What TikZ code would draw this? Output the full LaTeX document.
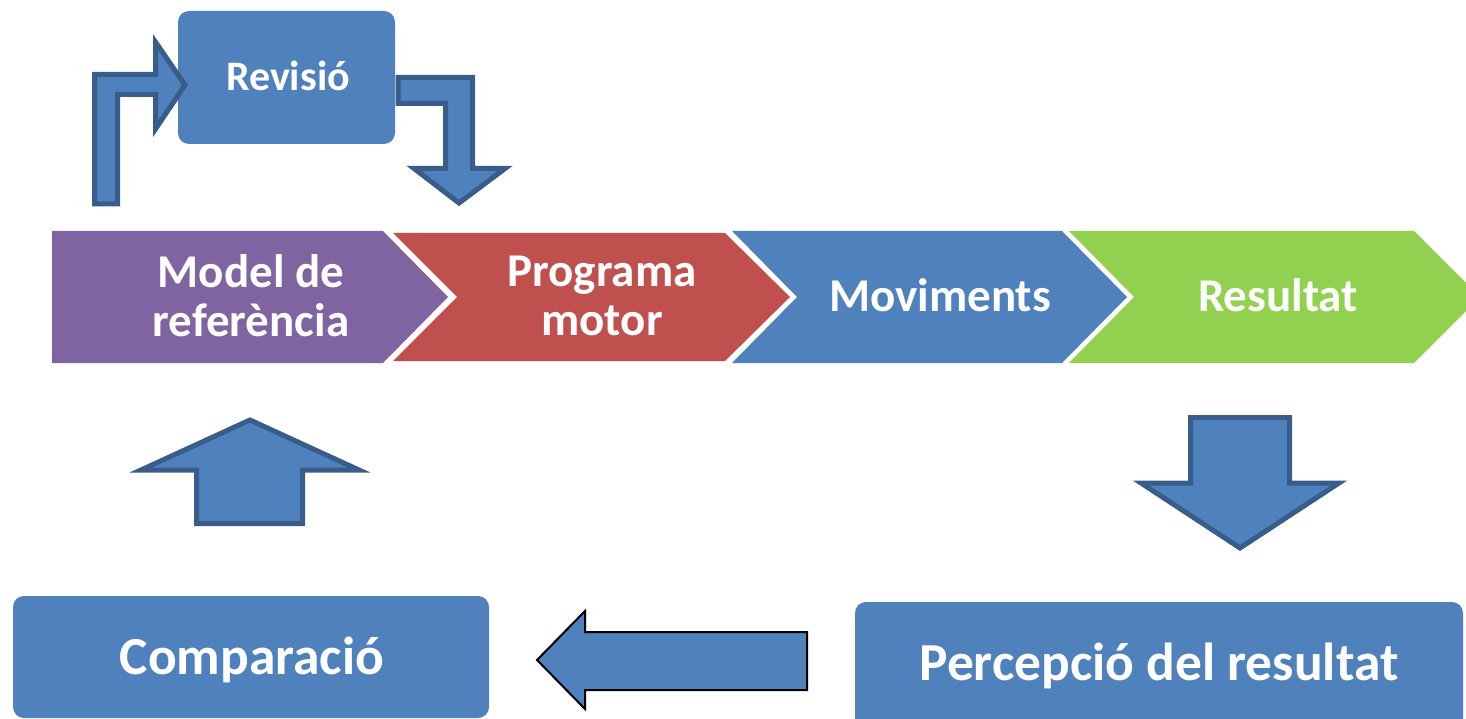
\documentclass[tikz,border=0pt]{standalone}
\usepackage{fontspec}
\setmainfont{Carlito}
\definecolor{accblue}{HTML}{4F81BD}
\definecolor{accdark}{HTML}{385D8A}
\definecolor{accpurple}{HTML}{8064A2}
\definecolor{accred}{HTML}{C0504D}
\definecolor{accgreen}{HTML}{92D050}
\begin{document}
\begin{tikzpicture}[x=1pt,y=-1pt,
  lbl/.style={text=white,inner sep=0pt,align=center},
  bigtxt/.style={lbl,font=\bfseries\fontsize{47}{49}\selectfont},
  boxtxt/.style={lbl,font=\bfseries\fontsize{53.5}{56}\selectfont},
  revtxt/.style={lbl,font=\bfseries\fontsize{42}{45}\selectfont},
  roundbox/.style={fill=accblue,draw=none,rounded corners=11pt,inner sep=0pt},
  blockarrow/.style={fill=accblue,draw=accdark,line width=5pt,line join=miter},
  flatarrow/.style={fill=accblue,draw=black,line width=2pt,line join=miter}]
\useasboundingbox (0,0) rectangle (1466,719);
\clip (0,0) rectangle (1466,719);

% process chevrons
\fill[accgreen]  (1069,231) -- (1414,231) -- (1480,297) -- (1414,363) -- (1069,363) -- (1134,297) -- cycle;
\fill[accblue]   (732,231) -- (1062,231) -- (1127,297) -- (1062,363) -- (732,363) -- (797,297) -- cycle;
\fill[accred]    (393,233) -- (725,233) -- (790,297) -- (725,361) -- (393,361) -- (457,297) -- cycle;
\fill[accpurple] (52,231) -- (383,231) -- (448,297) -- (383,363) -- (52,363) -- cycle;

\node[bigtxt] (model) at (251,296) {Model de\\referència};
\node[bigtxt] (prog) at (602,296) {Programa\\motor};
\node[bigtxt,anchor=base] (mov) at (940,311) {Moviments};
\node[bigtxt,anchor=base] (res) at (1278,311) {Resultat};

% review loop
\node[roundbox,minimum width=217pt,minimum height=133pt] (revbox) at (286.5,77.5) {};
\node[revtxt,anchor=base] (rev) at (288,91) {Revisió};
\draw[blockarrow] (94.5,204) -- (94.5,74.5) -- (155.5,74.5) -- (155.5,42) -- (185,85)
  -- (155.5,129) -- (155.5,94.5) -- (117.5,94.5) -- (117.5,204) -- cycle;
\draw[blockarrow] (398,77.5) -- (472.5,77.5) -- (472.5,168.5) -- (505,168.5) -- (459,203)
  -- (414,168.5) -- (445.5,168.5) -- (445.5,103.5) -- (398,103.5) -- cycle;

% feedback path
\draw[blockarrow] (1190.5,417.5) -- (1289.5,417.5) -- (1289.5,483) -- (1339,483) -- (1240,548)
  -- (1141,483) -- (1190.5,483) -- cycle;
\draw[blockarrow] (250,420) -- (359,470) -- (302.5,470) -- (302.5,523.5) -- (196.5,523.5)
  -- (196.5,470) -- (141,470) -- cycle;

\node[roundbox,minimum width=476pt,minimum height=122pt] (compbox) at (251,657) {};
\node[boxtxt,anchor=base] (comp) at (252,674) {Comparació};
\node[roundbox,minimum width=608pt,minimum height=133pt] (percbox) at (1159,668.5) {};
\node[boxtxt,anchor=base] (perc) at (1159,680) {Percepció del resultat};

\draw[flatarrow] (537,660) -- (585,611) -- (585,632) -- (807,632) -- (807,690) -- (585,690)
  -- (585,709) -- cycle;
\end{tikzpicture}
\end{document}
